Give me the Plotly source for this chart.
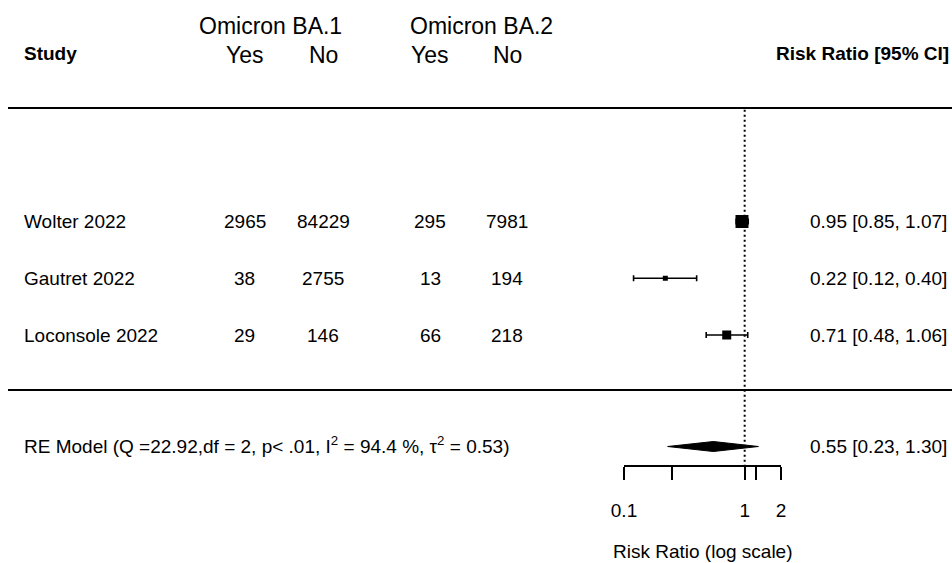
import math
import plotly.graph_objects as go

# ---------------- data ----------------
studies = ["Wolter 2022", "Gautret 2022", "Loconsole 2022"]
ba1_yes = [2965, 38, 29]
ba1_no = [84229, 2755, 146]
ba2_yes = [295, 13, 66]
ba2_no = [7981, 194, 218]
rr = [0.95, 0.22, 0.71]
ci_low = [0.85, 0.12, 0.48]
ci_high = [1.07, 0.40, 1.06]

re_est = 0.55
re_low = 0.23
re_high = 1.30
re_label = ("RE Model (Q =22.92,df = 2, p< .01, I<sup>2</sup> = 94.4 %, "
            "\u03c4<sup>2</sup> = 0.53)")

axis_ticks = [0.1, 1, 2]
axis_tick_labels = ["0.1", "1", "2"]
axis_minor_ticks = [0.25, 1.25]

# ---------------- layout / style ----------------
W, H = 952, 563
FONT = "Liberation Sans, Arial, sans-serif"
study_rows = [3, 2, 1]
marker_sizes = [13, 5, 9]

# row -> pixel: px = 391.75 - 56.75*row
def row_of(px):
    return (391.75 - px) / 56.75

re_row = row_of(446.5)
y_range = [row_of(H), row_of(0)]
axis_px = 466

fig = go.Figure()

# study squares with CIs
fig.add_trace(go.Scatter(
    x=rr, y=study_rows, xaxis="x2", yaxis="y", mode="markers",
    marker=dict(symbol="square", size=marker_sizes, color="black",
                opacity=1, line=dict(width=0)),
    error_x=dict(type="data", symmetric=False,
                 array=[h - e for h, e in zip(ci_high, rr)],
                 arrayminus=[e - l for e, l in zip(rr, ci_low)],
                 color="black", thickness=1.6, width=3),
    hoverinfo="skip", cliponaxis=False,
))

# summary diamond
dh = 5 / 56.75
fig.add_trace(go.Scatter(
    x=[re_low, re_est, re_high, re_est, re_low],
    y=[re_row, re_row + dh, re_row, re_row - dh, re_row],
    xaxis="x2", yaxis="y", mode="lines", fill="toself",
    fillcolor="black", line=dict(color="black", width=1),
    hoverinfo="skip", cliponaxis=False,
))

shapes = [
    dict(type="line", xref="paper", yref="y", x0=8 / W, x1=1, y0=5, y1=5,
         line=dict(color="black", width=2)),
    dict(type="line", xref="paper", yref="y", x0=8 / W, x1=1, y0=0.03, y1=0.03,
         line=dict(color="black", width=2)),
    dict(type="line", xref="x2", yref="y", x0=1, x1=1, y0=4.97,
         y1=row_of(axis_px), line=dict(color="black", width=2, dash="2px,3px")),
]

ann = []

def txt(x, y, s, anchor="center", size=19, bold=False, yshift=0):
    ann.append(dict(x=x / W, y=y, xref="paper", yref="y",
                    text=("<b>%s</b>" % s) if bold else s,
                    showarrow=False, xanchor=anchor, yanchor="middle",
                    borderpad=0, borderwidth=0, yshift=yshift,
                    font=dict(family=FONT, size=size, color="black")))

# headers
txt(24, row_of(53), "Study", "left", 19, True)
txt(949, row_of(53), "Risk Ratio [95% CI]", "right", 19, True)
txt(270, row_of(26), "Omicron BA.1", "center", 23)
txt(481, row_of(26), "Omicron BA.2", "center", 23)
txt(245, row_of(55), "Yes", "center", 23)
txt(323, row_of(55), "No", "center", 23)
txt(430, row_of(55), "Yes", "center", 23)
txt(507, row_of(55), "No", "center", 23)

for i, r in enumerate(study_rows):
    txt(24, r, studies[i], "left")
    txt(245, r, str(ba1_yes[i]))
    txt(323, r, str(ba1_no[i]))
    txt(430, r, str(ba2_yes[i]))
    txt(507, r, str(ba2_no[i]))
    txt(947, r, "%.2f [%.2f, %.2f]" % (rr[i], ci_low[i], ci_high[i]), "right")

txt(24, re_row, re_label, "left", yshift=2)
txt(947, re_row, "%.2f [%.2f, %.2f]" % (re_est, re_low, re_high), "right")

# axis title
ann.append(dict(x=0.5, y=row_of(551), xref="x2 domain", yref="y",
                text="Risk Ratio (log scale)", showarrow=False,
                xanchor="center", yanchor="middle",
                font=dict(family=FONT, size=19, color="black")))

fig.update_layout(
    width=W, height=H, margin=dict(l=0, r=0, t=0, b=0, pad=0),
    autosize=False,
    paper_bgcolor="white", plot_bgcolor="rgba(0,0,0,0)",
    showlegend=False, shapes=shapes, annotations=ann,
    xaxis=dict(range=[0, W], domain=[0, 1], visible=False, fixedrange=True,
               automargin=False),
    yaxis=dict(range=y_range, domain=[0, 1], visible=False, fixedrange=True,
               automargin=False),
    xaxis2=dict(type="log", range=[-1, math.log10(2)],
                domain=[624 / W, 781 / W], anchor="free",
                position=(H - axis_px) / H, automargin=False,
                showline=True, linecolor="black", linewidth=1.5,
                ticks="outside", ticklen=13, tickwidth=1.5, tickcolor="black",
                tickvals=axis_ticks, ticktext=axis_tick_labels,
                minor=dict(tickvals=axis_minor_ticks, ticks="outside",
                           ticklen=13, tickwidth=1.5, tickcolor="black",
                           showgrid=False),
                tickfont=dict(family=FONT, size=19, color="black"),
                ticklabelstandoff=14,
                showgrid=False, zeroline=False, fixedrange=True),
)

fig.write_html("out.html", config={"displayModeBar": False},
               post_script="document.body.style.margin='0';document.body.style.overflow='hidden';")
